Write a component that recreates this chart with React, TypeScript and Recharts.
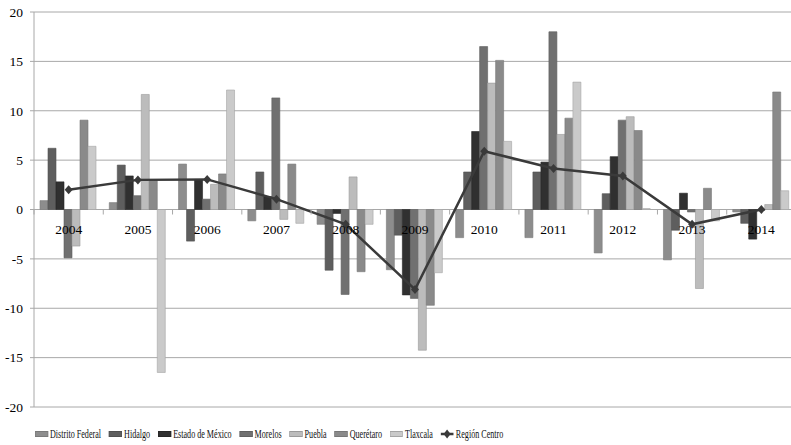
import { Bar, CartesianGrid, ComposedChart, Line, XAxis, YAxis } from "recharts";

const YEARS = ["2004", "2005", "2006", "2007", "2008", "2009", "2010", "2011", "2012", "2013", "2014"];
const DISTRITO_FEDERAL = [0.9, 0.7, 4.6, -1.15, -1.5, -6.1, -2.85, -2.85, -4.4, -5.1, -0.25];
const HIDALGO = [6.2, 4.5, -3.2, 3.8, -6.15, -2.6, 3.8, 3.8, 1.6, -2.1, -1.4];
const ESTADO_DE_MEXICO = [2.8, 3.4, 3.0, 1.3, -0.4, -8.65, 7.9, 4.8, 5.35, 1.65, -3.0];
const MORELOS = [-4.9, 1.4, 1.05, 11.3, -8.6, -9.0, 16.5, 18.0, 9.05, -0.25, -0.1];
const PUEBLA = [-3.7, 11.65, 2.55, -1.0, 3.3, -14.25, 12.8, 7.6, 9.4, -8.0, 0.5];
const QUERETARO = [9.05, 3.0, 3.6, 4.6, -6.3, -9.7, 15.1, 9.25, 8.0, 2.15, 11.9];
const TLAXCALA = [6.4, -16.5, 12.1, -1.4, -1.5, -6.4, 6.9, 12.9, 0.1, -1.15, 1.9];
const REGION_CENTRO = [2.0, 3.0, 3.05, 1.05, -1.5, -8.1, 5.9, 4.15, 3.4, -1.5, 0.0];
const Y_TICKS = [-20, -15, -10, -5, 0, 5, 10, 15, 20];

const STATE_NAMES = ["Distrito Federal", "Hidalgo", "Estado de México", "Morelos", "Puebla", "Querétaro", "Tlaxcala"];
const STATE_VALUES = [DISTRITO_FEDERAL, HIDALGO, ESTADO_DE_MEXICO, MORELOS, PUEBLA, QUERETARO, TLAXCALA];
const LINE_NAME = "Región Centro";

const FILLS = ["#8d8d8d", "#5e5e5e", "#303030", "#707070", "#bcbcbc", "#8a8a8a", "#cacaca"];
const STROKES = ["#7a7a7a", "#505050", "#262626", "#606060", "#9a9a9a", "#777777", "#a5a5a5"];
const LINE_COLOR = "#3a3a3a";
const GRID = "#a8a8a8";
const FONT = "'Liberation Serif', 'Times New Roman', serif";

const CHART_W = 796;
const CHART_H = 445;
const Y_AXIS_W = 34;
const TOP = 12;
const BOTTOM = 37;
const PLOT_H = CHART_H - TOP - BOTTOM - 1;
const ZERO_Y = TOP + PLOT_H / 2;
const BAND = (CHART_W - Y_AXIS_W) / YEARS.length;

const data = YEARS.map((year, i) => {
  const row: Record<string, string | number> = { year, centro: REGION_CENTRO[i] };
  STATE_VALUES.forEach((vals, s) => {
    row["s" + s] = vals[i];
  });
  return row;
});

function YearTick(props: any) {
  const { x, payload, index } = props;
  return (
    <g>
      <line x1={x - BAND / 2} x2={x - BAND / 2} y1={ZERO_Y} y2={ZERO_Y + 5} stroke={GRID} />
      {index === YEARS.length - 1 && (
        <line x1={x + BAND / 2} x2={x + BAND / 2} y1={ZERO_Y} y2={ZERO_Y + 5} stroke={GRID} />
      )}
      <text x={x} y={ZERO_Y + 20} textAnchor="middle" dominantBaseline="central" fontFamily={FONT} fontSize={13.5} fill="#000">
        {payload.value}
      </text>
    </g>
  );
}

function Diamond(props: any) {
  const { cx, cy } = props;
  if (cx == null || cy == null) return null;
  return <polygon points={`${cx},${cy - 4.5} ${cx + 4},${cy} ${cx},${cy + 4.5} ${cx - 4},${cy}`} fill={LINE_COLOR} />;
}

const SCALE = 0.6;

function ChartLegend() {
  return (
    <div
      style={{
        position: "absolute",
        left: 35,
        top: 426,
        display: "flex",
        alignItems: "center",
        whiteSpace: "nowrap",
        transform: `scaleX(${SCALE})`,
        transformOrigin: "left center",
        fontFamily: FONT,
        fontSize: 13.5,
        color: "#111",
      }}
    >
      {STATE_NAMES.map((name, i) => (
        <div key={name} style={{ display: "flex", alignItems: "center", marginRight: 8 / SCALE }}>
          <span
            style={{
              display: "inline-block",
              width: 13 / SCALE,
              height: 6,
              background: FILLS[i],
              border: `1px solid ${STROKES[i]}`,
              boxSizing: "border-box",
              marginRight: 2 / SCALE,
            }}
          />
          <span>{name}</span>
        </div>
      ))}
      <div style={{ display: "flex", alignItems: "center" }}>
        <svg width={13 / SCALE} height={10} style={{ marginRight: 2 / SCALE }}>
          <line x1={0} x2={13 / SCALE} y1={5} y2={5} stroke={LINE_COLOR} strokeWidth={2.5} />
          <polygon
            points={`${6.5 / SCALE},0.5 ${(6.5 + 3.5) / SCALE},5 ${6.5 / SCALE},9.5 ${(6.5 - 3.5) / SCALE},5`}
            fill={LINE_COLOR}
          />
        </svg>
        <span>{LINE_NAME}</span>
      </div>
    </div>
  );
}

export default function App() {
  return (
    <div style={{ position: "fixed", left: 0, top: 0, width: 791, height: 445, overflow: "hidden", background: "#fff" }}>
      <ComposedChart
        width={CHART_W}
        height={CHART_H}
        data={data}
        margin={{ top: TOP, right: 0, bottom: BOTTOM, left: 0 }}
        barCategoryGap={6}
        barGap={0}
      >
        <CartesianGrid stroke={GRID} vertical={false} />
        <XAxis dataKey="year" height={1} axisLine={false} tickLine={false} tick={<YearTick />} interval={0} />
        <YAxis
          width={Y_AXIS_W}
          domain={[-20, 20]}
          ticks={Y_TICKS}
          interval={0}
          stroke={GRID}
          tickSize={4}
          tickMargin={7}
          tick={{ fontFamily: FONT, fontSize: 13.5, fill: "#000" }}
        />
        {STATE_NAMES.map((name, i) => (
          <Bar
            key={name}
            dataKey={"s" + i}
            name={name}
            fill={FILLS[i]}
            stroke={STROKES[i]}
            strokeWidth={0.6}
            isAnimationActive={false}
          />
        ))}
        <Line
          dataKey="centro"
          name={LINE_NAME}
          stroke={LINE_COLOR}
          strokeWidth={2.5}
          dot={<Diamond />}
          activeDot={false}
          isAnimationActive={false}
        />
      </ComposedChart>
      <ChartLegend />
    </div>
  );
}
